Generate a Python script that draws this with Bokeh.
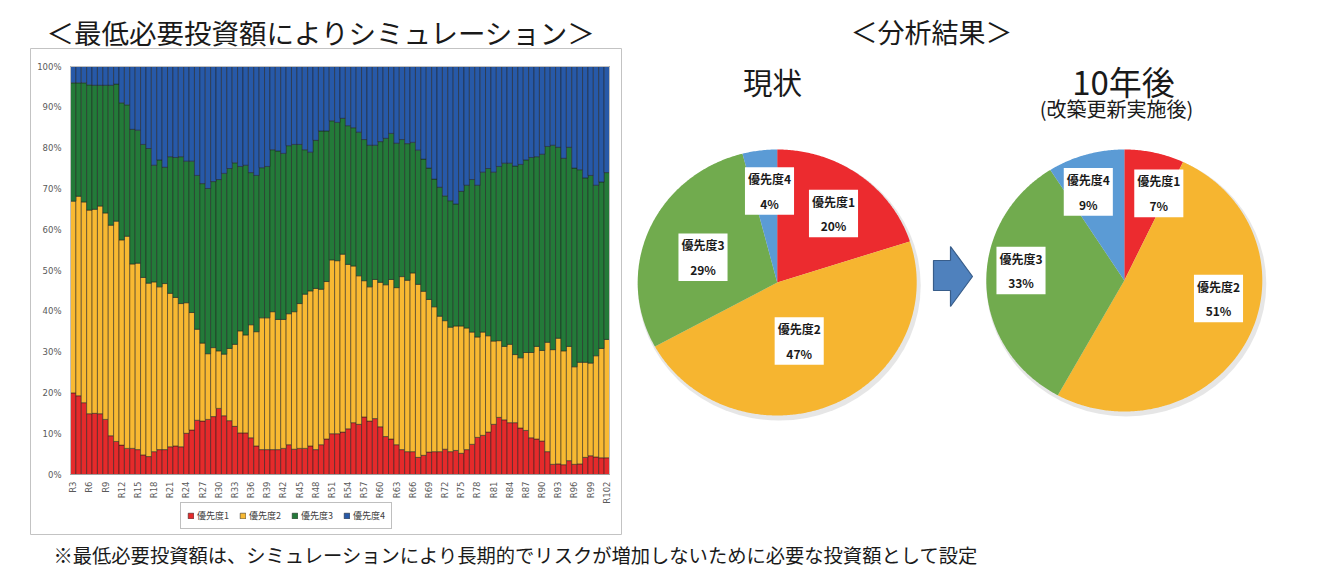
import numpy as np
from bokeh.plotting import figure
from bokeh.models import Range1d, Label, ColumnDataSource
from bokeh.core.properties import value
from bokeh.embed import file_html
from bokeh.resources import INLINE

# ---------------- data ----------------
categories = [f"R{n}" for n in range(3, 103)]
series_names = ["優先度1", "優先度2", "優先度3", "優先度4"]

prio1 = [20.0, 19.3, 17.6, 14.9, 15.0, 14.9, 13.5, 9.5, 8.1, 7.2,
         6.4, 6.4, 6.1, 4.8, 4.4, 5.6, 6.1, 6.1, 6.8, 7.0,
         6.8, 10.1, 10.9, 13.3, 13.1, 13.5, 14.2, 16.2, 14.4, 13.2,
         11.8, 10.2, 10.2, 9.0, 7.0, 6.1, 6.1, 6.1, 6.1, 6.4,
         7.3, 6.2, 6.4, 6.4, 7.0, 6.1, 7.3, 8.7, 10.0, 10.0,
         10.4, 11.2, 12.7, 12.3, 14.1, 13.1, 13.7, 11.7, 9.3, 8.7,
         7.3, 6.1, 5.6, 5.6, 4.2, 4.7, 5.5, 5.6, 5.6, 6.2,
         5.6, 5.9, 5.2, 6.1, 7.4, 9.1, 9.6, 10.4, 12.3, 14.0,
         13.4, 12.7, 12.7, 11.4, 10.8, 9.0, 8.7, 8.2, 5.6, 2.5,
         2.6, 2.4, 3.4, 2.5, 2.6, 4.2, 4.6, 4.3, 4.1, 4.1]
prio2 = [47.0, 48.9, 49.2, 49.9, 50.0, 50.9, 50.6, 51.6, 54.0, 50.3,
         52.0, 45.2, 45.7, 43.5, 42.5, 41.6, 39.9, 40.7, 37.6, 36.4,
         35.1, 32.0, 28.8, 22.3, 19.1, 16.1, 16.9, 14.1, 15.1, 17.7,
         20.1, 25.0, 24.0, 27.7, 28.0, 32.3, 32.3, 33.8, 31.9, 31.6,
         32.1, 33.7, 35.5, 37.8, 38.0, 39.5, 38.1, 38.6, 42.6, 42.4,
         43.6, 40.3, 38.4, 36.4, 33.4, 32.9, 34.1, 35.4, 37.2, 39.1,
         38.5, 42.4, 42.0, 43.8, 42.4, 40.2, 37.4, 35.5, 33.2, 31.5,
         30.5, 30.5, 31.2, 29.8, 27.5, 24.6, 25.3, 23.6, 20.4, 18.8,
         18.0, 19.2, 16.7, 17.2, 19.1, 20.9, 22.7, 22.2, 26.8, 28.1,
         30.8, 27.9, 28.0, 23.9, 24.9, 23.3, 22.7, 24.8, 26.8, 29.0]
prio3 = [29.0, 27.8, 29.2, 30.7, 30.4, 29.6, 31.3, 34.3, 33.6, 33.6,
         32.2, 33.0, 32.6, 32.6, 33.0, 28.6, 31.1, 28.5, 33.5, 34.3,
         36.0, 34.7, 37.1, 37.7, 39.1, 40.5, 40.7, 42.0, 44.3, 44.1,
         44.5, 40.3, 41.6, 37.3, 38.3, 36.8, 37.1, 39.7, 41.3, 40.7,
         41.2, 41.0, 39.0, 35.4, 34.0, 36.3, 38.8, 36.9, 34.1, 33.9,
         33.3, 34.0, 33.9, 35.2, 34.6, 34.7, 32.9, 34.5, 35.9, 35.8,
         35.4, 33.6, 33.5, 32.0, 32.9, 32.4, 32.2, 31.3, 31.6, 30.6,
         31.0, 29.9, 33.0, 35.0, 37.4, 37.2, 39.2, 41.0, 41.4, 42.7,
         44.9, 44.4, 46.2, 47.4, 47.2, 47.8, 46.5, 48.1, 48.0, 50.1,
         46.8, 47.2, 48.8, 48.7, 47.2, 45.2, 46.0, 41.8, 40.8, 40.9]
prio4 = [4.0, 4.0, 4.0, 4.5, 4.6, 4.6, 4.6, 4.6, 4.3, 8.9,
         9.4, 15.4, 15.6, 19.1, 20.1, 24.2, 22.9, 24.7, 22.1, 22.3,
         22.1, 23.2, 23.2, 26.7, 28.7, 29.9, 28.2, 27.7, 26.2, 25.0,
         23.6, 24.5, 24.2, 26.0, 26.7, 24.8, 24.5, 20.4, 20.7, 21.3,
         19.4, 19.1, 19.1, 20.4, 21.0, 18.1, 15.8, 15.8, 13.3, 13.7,
         12.7, 14.5, 15.0, 16.1, 17.9, 19.3, 19.3, 18.4, 17.6, 16.4,
         18.8, 17.9, 18.9, 18.6, 20.5, 22.7, 24.9, 27.6, 29.6, 31.7,
         32.9, 33.7, 30.6, 29.1, 27.7, 29.1, 25.9, 25.0, 25.9, 24.5,
         23.7, 23.7, 24.4, 24.0, 22.9, 22.3, 22.1, 21.5, 19.6, 19.3,
         19.8, 22.5, 19.8, 24.9, 25.3, 27.3, 26.7, 29.1, 28.3, 26.0]

y_ticks = [0, 10, 20, 30, 40, 50, 60, 70, 80, 90, 100]
y_tick_labels = [f"{t}%" for t in y_ticks]
shown_x_labels = [f"R{n}" for n in range(3, 103, 3)]

pie_now = [20, 47, 29, 4]
pie_after = [7, 51, 33, 9]

bar_colors = ["#E52A2B", "#F8B932", "#237A39", "#2759A8"]
pie_colors = ["#EC2B2F", "#F6B530", "#71AB4E", "#5B9BD5"]

JP = "Noto Sans CJK JP"

# ---------------- layout (page pixel geometry) ----------------
W, H = 1317, 568
PX0, PY0 = 0, 0                       # canvas origin on the page
PLOT_L, PLOT_R, PLOT_T, PLOT_B = 70, 609, 66, 474   # bar plot area on the page
n_cat = len(categories)
kx = (PLOT_R - PLOT_L) / n_cat
ky = (PLOT_B - PLOT_T) / 100.0

p = figure(width=W, height=H, output_backend="svg", toolbar_location=None,
           x_range=Range1d(PX0, PX0 + W), y_range=Range1d(PY0 + H, PY0),
           x_axis_type=None, y_axis_type=None,
           min_border=0, min_border_left=0, min_border_right=0,
           min_border_top=0, min_border_bottom=0)
p.grid.grid_line_color = None
p.outline_line_color = None
p.background_fill_color = "white"
p.border_fill_color = "white"

# scales of the bar chart (category index / percent)
p.extra_x_ranges = {"bx": Range1d(0 - (PLOT_L - PX0) / kx, n_cat + (PX0 + W - PLOT_R) / kx)}
p.extra_y_ranges = {"by": Range1d(0 - (PY0 + H - PLOT_B) / ky, 100 + (PLOT_T - PY0) / ky)}

# chart-area border
p.quad(left=30, right=621, top=48, bottom=534, fill_color=None,
       line_color="#c3c3c3", line_width=1)

# stacked bars
bar_x = (np.arange(n_cat) + 0.5).tolist()
src = ColumnDataSource(dict(x=bar_x, cat=categories, p1=prio1, p2=prio2, p3=prio3, p4=prio4))
p.vbar_stack(["p1", "p2", "p3", "p4"], x="x", width=1.0, source=src,
             color=bar_colors, line_color="#1e1e1e", line_width=0.6, line_alpha=0.85,
             legend_label=series_names, x_range_name="bx", y_range_name="by")

# plot-area outline
p.quad(left=0, right=n_cat, bottom=0, top=100, fill_color=None,
       line_color="#bfbfbf", line_width=1, x_range_name="bx", y_range_name="by")
p.segment(x0=0, x1=n_cat, y0=0, y1=0, line_color="#a0a0a0", line_width=1,
          x_range_name="bx", y_range_name="by")

# y tick labels
p.text(x=[-9 / kx] * len(y_ticks), y=y_ticks, text=y_tick_labels,
       text_align="right", text_baseline="middle", text_font=value("DejaVu Sans"),
       text_font_size="8.5px", text_color="#595959",
       x_range_name="bx", y_range_name="by")

# x tick labels (every third category)
xl_pos = [categories.index(c) + 0.5 for c in shown_x_labels]
p.text(x=xl_pos, y=[-7 / ky] * len(xl_pos), text=shown_x_labels, angle=np.pi / 2,
       text_align="right", text_baseline="middle", text_font=value("DejaVu Sans"),
       text_font_size="8.5px", text_color="#595959",
       x_range_name="bx", y_range_name="by")

lg = p.legend[0]
lg.orientation = "horizontal"
lg.location = (180 - PX0, PY0 + H - 529)
lg.label_text_font = JP
lg.label_text_font_size = "9px"
lg.label_text_color = "#404040"
lg.glyph_width = 7
lg.glyph_height = 7
lg.label_height = 9
lg.label_standoff = 3
lg.spacing = 10
lg.padding = 6
lg.margin = 0
lg.border_line_color = "#808080"
lg.border_line_width = 1
lg.background_fill_alpha = 1

# ---------------- pies ----------------
def draw_pie(values, cx, cy, rx, ry):
    vals = np.asarray(values, dtype=float)
    cum = np.concatenate([[0.0], np.cumsum(vals)]) / vals.sum() * 2 * np.pi
    xs, ys = [], []
    for a0, a1 in zip(cum[:-1], cum[1:]):
        t = np.linspace(a0, a1, max(int((a1 - a0) / 0.01), 2))
        xs.append(np.concatenate([[cx], cx + rx * np.sin(t)]).tolist())
        ys.append(np.concatenate([[cy], cy - ry * np.cos(t)]).tolist())
    p.ellipse(x=cx + 2, y=cy + 3, width=2 * rx + 4, height=2 * ry + 4,
              fill_color="#9a9a9a", fill_alpha=0.25, line_color=None)
    p.patches(xs, ys, fill_color=pie_colors, line_color=None)


draw_pie(pie_now, 776.7, 282.0, 139.5, 133.0)
draw_pie(pie_after, 1123.8, 280.0, 138.0, 131.0)

label_pos_now = [(833, 213), (798.7, 340.5), (702.5, 256.7), (769, 190.5)]
label_pos_after = [(1158.3, 192.8), (1218, 298), (1020.5, 270), (1087.8, 191.3)]
for vals, poss in ((pie_now, label_pos_now), (pie_after, label_pos_after)):
    for name, v, (lx, ly) in zip(series_names, vals, poss):
        p.add_layout(Label(x=lx, y=ly, text=f"{name}\n{v}%",
                           text_align="center", text_baseline="middle",
                           text_font=JP, text_font_size="12px",
                           text_font_style="bold", text_color="#1a1a1a",
                           text_line_height=1.45,
                           background_fill_color="white", padding=3))

# arrow between the pies
p.patch([933, 950, 950, 972, 950, 950, 933], [260, 260, 246, 276, 306, 290, 290],
        fill_color="#4F81BD", line_color="#385D8A", line_width=1.2)

# ---------------- titles / notes ----------------
def title(x, y, txt, size, align="center"):
    p.add_layout(Label(x=x, y=y, text=txt, text_align=align, text_baseline="middle",
                       text_font=JP, text_font_size=size, text_color="#1a1a1a"))


title(321, 31, "＜最低必要投資額によりシミュレーション＞", "27.5px")
title(931, 31, "＜分析結果＞", "27px")
title(772, 80, "現状", "29.5px")
title(1123, 80, "10年後", "33px")
title(1116, 108, "(改築更新実施後)", "20px")
title(53, 554, "※最低必要投資額は、シミュレーションにより長期的でリスクが増加しないために必要な投資額として設定",
      "19.3px", align="left")

open("out.html", "w").write(file_html(p, INLINE))
